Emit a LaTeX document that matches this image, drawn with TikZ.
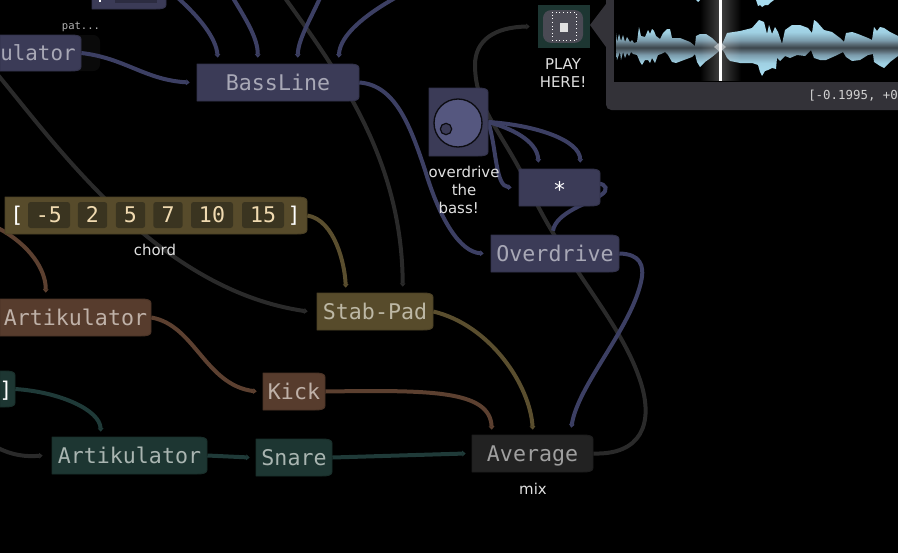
\documentclass[tikz,border=0pt]{standalone}
\usepackage{fontspec}
\setmainfont{DejaVu Sans}
\newfontfamily\monof{DejaVu Sans Mono}
\usetikzlibrary{arrows.meta,fadings}
\definecolor{bluebox}{HTML}{3B3B57}
\definecolor{blueline}{HTML}{3C3F63}
\definecolor{bluetxt}{HTML}{A8A8B6}
\definecolor{greenbox}{HTML}{1D3632}
\definecolor{greenline}{HTML}{1F3A38}
\definecolor{greentxt}{HTML}{A9B5B1}
\definecolor{brownbox}{HTML}{573C2D}
\definecolor{brownline}{HTML}{5C4030}
\definecolor{browntxt}{HTML}{BFB1A8}
\definecolor{olivebox}{HTML}{574B2B}
\definecolor{oliveline}{HTML}{5A4E2E}
\definecolor{olivetxt}{HTML}{BDB8A5}
\definecolor{graybox}{HTML}{222222}
\definecolor{grayline}{HTML}{2A2A2A}
\definecolor{graytxt}{HTML}{A0A0A0}
\definecolor{panelc}{HTML}{333238}
\definecolor{cellc}{HTML}{3A3420}
\definecolor{celltxt}{HTML}{F0DAB0}
\definecolor{labelc}{HTML}{E0E0E0}
\definecolor{wavelight}{HTML}{A8DCF0}
\definecolor{wavemidA}{HTML}{9FD0E2}
\definecolor{wavemidB}{HTML}{7A9AAA}
\definecolor{wavemidC}{HTML}{5A6C76}
\definecolor{wavedark}{HTML}{3C464C}
\definecolor{dialc}{HTML}{55577F}
\definecolor{btnc}{HTML}{4A4A54}
\pgfdeclarelayer{bg}
\pgfsetlayers{bg,main}
\pgfdeclareverticalshading{waveshade}{100bp}{color(0bp)=(wavelight);color(28bp)=(wavelight);color(37bp)=(wavemidA);color(44bp)=(wavemidB);color(47bp)=(wavemidC);color(50bp)=(wavedark);color(53bp)=(wavemidC);color(56bp)=(wavemidB);color(63bp)=(wavemidA);color(72bp)=(wavelight);color(100bp)=(wavelight)}
\tikzfading[name=glowfade,left color=transparent!100,right color=transparent!100,middle color=transparent!75]
\tikzset{
  boxlabel/.style={rectangle,inner sep=0pt,font=\monof\fontsize{16.2}{18}\selectfont,text height=11.8pt,text depth=0pt},
  wire/.style={line width=3pt,-{Triangle[length=2.6pt,width=4.2pt]}},
  wireb/.style={wire,blueline},
  wireg/.style={wire,grayline},
  wiren/.style={wire,greenline},
  wirer/.style={wire,brownline},
  wireo/.style={wire,oliveline},
  cell/.style={rectangle,rounded corners=2pt,fill=cellc,inner sep=0pt,text=celltxt,font=\monof\fontsize{16.2}{18}\selectfont,text height=11.8pt,text depth=0pt},
  caption/.style={font=\fontsize{11.2}{13.2}\selectfont,text=labelc,inner sep=0pt,align=center}
}
% name, x0, y0, x1, y1, fill, text colour, text
\newcommand\bx[8]{%
  \filldraw[fill=#6,draw=#6!85!black,line width=.7pt,line join=round]
    (#2,#3) -- ({#4-10},#3) .. controls ({#4-4},#3) and (#4,{#3+1}) .. (#4,{#3+4})
    -- (#4,{#5-4}) .. controls (#4,{#5-1}) and ({#4-4},#5) .. ({#4-10},#5) -- (#2,#5) -- cycle;
  \node[boxlabel,text=#7,minimum width={(#4-#2)*0.75pt},minimum height={(#5-#3)*0.75pt}] (#1) at ({(#2+#4)/2},{(#3+#5)/2}) {#8};
}
\begin{document}
\begin{tikzpicture}[x=0.75pt,y=-0.75pt]
\useasboundingbox (0,0) rectangle (898,553);
\begin{pgfonlayer}{bg}
\fill[black] (0,0) rectangle (898,553);
\fill[fill=black!96!white,rounded corners=5pt] (70,35) rectangle (100,71);
\end{pgfonlayer}
\node[font=\monof\fontsize{7.9}{9}\selectfont,text=black!30!white,inner sep=0pt] (pat) at (81,27) {pat...};
% nodes
\bx{top}{92}{-4}{166}{9}{bluebox}{white}{}
\fill[fill=black!25!bluebox] (115,0) rectangle (157,3);
\fill[white] (99,0) rectangle (101,2);
\bx{art}{0}{35}{81}{71}{bluebox}{bluetxt}{}
\node[boxlabel,font=\monof\fontsize{15.6}{18}\selectfont,text=bluetxt] (artt) at (38,53) {ulator};
\bx{bass}{197}{64}{359}{101}{bluebox}{bluetxt}{BassLine}
\bx{knob}{429}{88}{488}{156}{bluebox}{white}{}
\node[circle,draw=black!80!bluebox,line width=1pt,fill=dialc,minimum size=36pt,inner sep=0pt] (dial) at (458,123) {};
\node[circle,draw=black!80!bluebox,line width=.9pt,fill=bluebox,minimum size=8.5pt,inner sep=0pt] (dot) at (446,129) {};
\bx{star}{519}{169}{600}{206}{bluebox}{white}{\raisebox{-1.5pt}{*}}
\bx{over}{491}{235}{619}{272}{bluebox}{bluetxt}{Overdrive}
\bx{chord}{5}{197}{307}{234}{olivebox}{white}{}
\node[cell,minimum width=31.5pt,minimum height=19.5pt] (c1) at (49,215) {-5};
\node[cell,minimum width=22pt,minimum height=19.5pt] (c2) at (92.5,215) {2};
\node[cell,minimum width=22pt,minimum height=19.5pt] (c3) at (130.5,215) {5};
\node[cell,minimum width=22pt,minimum height=19.5pt] (c4) at (168,215) {7};
\node[cell,minimum width=31.5pt,minimum height=19.5pt] (c5) at (212,215) {10};
\node[cell,minimum width=31.5pt,minimum height=19.5pt] (c6) at (263,215) {15};
\node[boxlabel,text=white] (lb) at (17,215) {[};
\node[boxlabel,text=white] (rb) at (294,215) {]};
\bx{pad}{317}{293}{433}{330}{olivebox}{olivetxt}{Stab-Pad}
\bx{artb}{0}{299}{151}{336}{brownbox}{browntxt}{Artikulator}
\bx{kick}{263}{373}{325}{410}{brownbox}{browntxt}{Kick}
\bx{seq}{0}{371}{15}{407}{greenbox}{white}{}
\node[boxlabel,text=white] (seqt) at (6,390) {]};
\bx{artg}{52}{437}{207}{474}{greenbox}{greentxt}{Artikulator}
\bx{snare}{256}{439}{332}{476}{greenbox}{greentxt}{Snare}
\bx{avg}{472}{435}{593}{472}{graybox}{graytxt}{Average}
\node[caption] (chordl) at (155,250) {chord};
\node[caption] (mixl) at (533,489) {mix};
\node[caption] (odl) at (464,190) {overdrive\\the\hspace*{9pt}\\bass!\hspace*{8pt}};
\node[caption] (playl) at (563,73) {PLAY\\HERE!};
% play button
\node[rectangle,fill=greenbox,minimum width=39pt,minimum height=32pt,inner sep=0pt] (play) at (564,26.5) {};
\node[rectangle,rounded corners=6pt,fill=btnc,minimum width=30pt,minimum height=24.5pt,inner sep=0pt] (pbtn) at (563,26.5) {};
\node[rectangle,draw=white,dotted,line width=.7pt,minimum width=18pt,minimum height=21.5pt,inner sep=0pt] (pdot) at (564,26.5) {};
\node[rectangle,fill=black!12!white,minimum width=6.5pt,minimum height=6.5pt,inner sep=0pt] (pstop) at (564,27.5) {};
% free ends
\coordinate (f1) at (178,-2);
\coordinate (f2) at (233,-2);
\coordinate (f3) at (320,-2);
\coordinate (f4) at (395,-2);
\coordinate (f5) at (285,-2);
\coordinate (f6) at (-2,75);
\coordinate (f7) at (-2,228);
\coordinate (f8) at (-2,448);
% connectors
\begin{pgfonlayer}{bg}
\draw[wireg] (f5) .. controls (340,75) and (402,160) .. ([shift={(86,-6)}]pad.north west);
\draw[wireg] (f6) .. controls (60,150) and (160,290) .. ([shift={(-9,0)}]pad.west);
\draw[wireg] (avg.east) .. controls (640,455) and (655,425) .. (640,380)
   .. controls (620,320) and (565,265) .. (530,190)
   .. controls (505,135) and (475,110) .. (475,65)
   .. controls (475,40) and (495,27) .. ([shift={(-8,0)}]play.west);
\draw[wireg] (f8) .. controls (12,455) and (25,457) .. ([shift={(-9,0)}]artg.west);
\draw[wireb] (art.east) .. controls (125,58) and (145,80) .. ([shift={(-7,0)}]bass.west);
\draw[wireb] (f1) .. controls (200,18) and (216,38) .. ([shift={(21,-6)}]bass.north west);
\draw[wireb] (f2) .. controls (245,18) and (258,38) .. ([shift={(61,-6)}]bass.north west);
\draw[wireb] (f3) .. controls (310,20) and (298,40) .. ([shift={(101,-6)}]bass.north west);
\draw[wireb] (f4) .. controls (365,15) and (340,35) .. ([shift={(142,-6)}]bass.north west);
\draw[wireb] (bass.east) .. controls (395,85) and (410,125) .. (425,170)
   .. controls (440,220) and (460,252) .. ([shift={(-7,0)}]over.west);
\draw[wireb] (knob.east) .. controls (497,150) and (495,186) .. ([shift={(-7,0)}]star.west);
\draw[wireb] (knob.east) .. controls (510,128) and (537,140) .. ([shift={(-21,-6)}]star.north);
\draw[wireb] (knob.east) .. controls (535,125) and (580,140) .. ([shift={(-20,-6)}]star.north east);
\draw[wireb,-] ([shift={(-2,-4)}]star.east) .. controls (606,184) and (609,190) .. (601,195)
   .. controls (590,203) and (556,212) .. ([shift={(-2,-4)}]over.north);
\draw[wireb] (over.east) .. controls (640,254) and (645,265) .. (641,282)
   .. controls (630,330) and (578,385) .. ([shift={(-22,-7)}]avg.north east);
\draw[wireo] (chord.east) .. controls (335,220) and (345,265) .. ([shift={(29,-5)}]pad.north west);
\draw[wireo] (pad.east) .. controls (490,325) and (530,385) .. ([shift={(61,-5)}]avg.north west);
\draw[wirer] (f7) .. controls (30,245) and (46,270) .. ([shift={(46,-6)}]artb.north west);
\draw[wirer] (artb.east) .. controls (195,325) and (205,385) .. ([shift={(-6,0)}]kick.west);
\draw[wirer] (kick.east) .. controls (430,390) and (490,390) .. ([shift={(20,-5)}]avg.north west);
\draw[wiren] (seq.east) .. controls (60,392) and (100,410) .. ([shift={(49,-5)}]artg.north west);
\draw[wiren] (artg.east) -- ([shift={(-6,0)}]snare.west);
\draw[wiren] (snare.east) -- ([shift={(-6,0)}]avg.west);
\end{pgfonlayer}
% inspector panel
\fill[panelc] (590,25) -- (606,4) -- (606,47) -- cycle;
\fill[panelc,rounded corners=4pt] (606,-10) rectangle (908,110);
\fill[black] (614,-2) rectangle (900,82);
\begin{scope}
\clip (616,47.5) -- (616,33) -- (617,42) -- (619,34) -- (621,41) -- (623,35) -- (625,42) -- (627,37) -- (630,42) -- (632,40) -- (634,43) -- (637,42) -- (639,27) -- (641,36) -- (645,37) -- (648,30) -- (650,34) -- (652,29) -- (654,31) -- (656,36) -- (660,39) -- (663,33) -- (667,29) -- (670,29) -- (672,38) -- (680,38) -- (690,42) -- (695,46) -- (696,36) -- (700,34) -- (706,34) -- (712,38) -- (718,44) -- (721,46) -- (724,40) -- (727,33) -- (740,31) -- (752,28) -- (759,20) -- (764,22) -- (767,34) -- (769,25) -- (772,34) -- (775,27) -- (778,32) -- (782,44) -- (785,30) -- (792,25) -- (800,25) -- (808,28) -- (812,33) -- (814,20) -- (817,22) -- (824,30) -- (832,32) -- (840,38) -- (844,42) -- (846,33) -- (852,32) -- (858,34) -- (868,38) -- (872,40) -- (874,27) -- (877,31) -- (880,27) -- (884,28) -- (890,32) -- (898,36)
 -- (898,56) -- (890,62) -- (884,68) -- (880,66) -- (874,62) -- (873,54) -- (868,55) -- (860,60) -- (852,61) -- (846,57) -- (843,52) -- (835,56) -- (826,60) -- (820,60) -- (814,58) -- (811,50) -- (805,56) -- (797,55) -- (790,58) -- (785,56) -- (780,61) -- (777,58) -- (776,69) -- (772,68) -- (768,70) -- (765,71) -- (762,76) -- (760,72) -- (758,65) -- (752,63) -- (740,63) -- (730,61) -- (727,58) -- (724,52) -- (721,49) -- (718,52) -- (712,57) -- (705,62) -- (700,67) -- (697,62) -- (695,54) -- (692,57) -- (684,60) -- (676,63) -- (672,62) -- (668,55) -- (665,52) -- (661,54) -- (658,55) -- (655,63) -- (652,58) -- (650,63) -- (648,60) -- (645,60) -- (642,65) -- (640,62) -- (637,55) -- (633,54) -- (631,52) -- (629,56) -- (627,53) -- (625,58) -- (623,52) -- (621,60) -- (620,52) -- (617,60) -- (616,50) -- cycle;
\shade[shading=waveshade] (614,18) rectangle (898,77);
\end{scope}
\begin{scope}
\clip (756,0) -- (758,6) -- (760,5) -- (762,7) -- (765,5) -- (768,5) -- (770,3) -- (774,0) -- cycle;
\fill[wavelight] (750,-1) rectangle (780,10);
\end{scope}
\fill[wavelight] (696,0) -- (700,0) -- (698,2) -- cycle;
\fill[white,path fading=glowfade] (700,0) rectangle (741,81);
\fill[white,opacity=.45] (714,47) -- (720,42) -- (726,47) -- (720,52) -- cycle;
\fill[white] (719,0) rectangle (721.5,81);
\node[font=\monof\fontsize{9.3}{11}\selectfont,text=black!18!white,inner sep=0pt,anchor=west] (range) at (808,96) {[-0.1995, +0};
\end{tikzpicture}
\end{document}
